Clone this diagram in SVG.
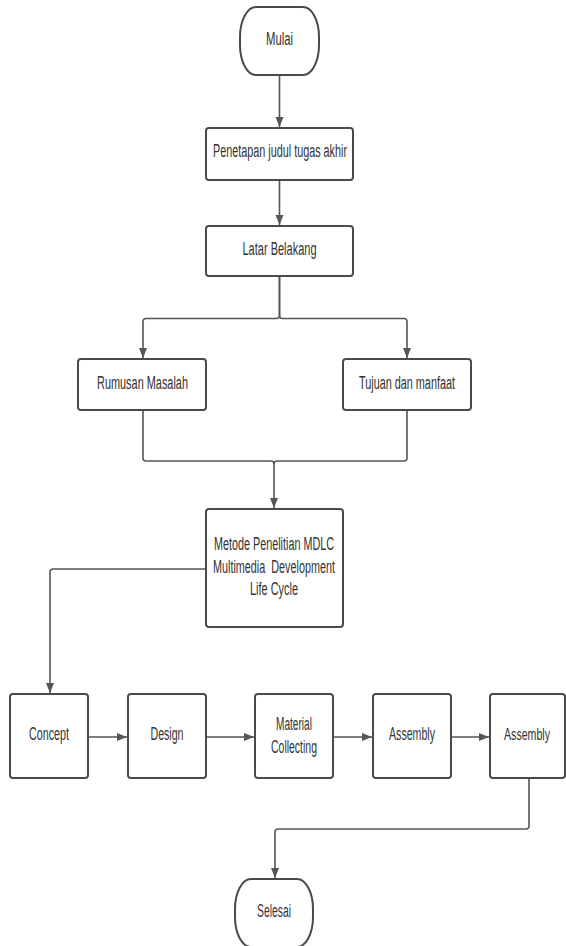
<svg xmlns="http://www.w3.org/2000/svg" width="566" height="946" viewBox="0 0 566 946">
<style>
.box{fill:#ffffff;stroke:#4a4a4a;stroke-width:2}
.lbl{font-family:"Liberation Sans Narrow","Liberation Sans",Arial,sans-serif;font-size:18px;fill:#333333;text-anchor:middle}
.con{fill:none;stroke:#555555;stroke-width:1.6;stroke-linejoin:round}
</style>
<defs>
<marker id="arr" markerUnits="userSpaceOnUse" markerWidth="12" markerHeight="10" refX="10" refY="4" orient="auto">
<path d="M0,0 L10,4 L0,8 Z" fill="#555555"/>
</marker>
</defs>
<rect width="566" height="946" fill="#ffffff"/>
<g id="connectors">
<path class="con" d="M279.5,75 V127" marker-end="url(#arr)"/>
<path class="con" d="M279.5,180 V225" marker-end="url(#arr)"/>
<path class="con" d="M279.5,276 V315.5 Q279.5,318.5 276.5,318.5 H146 Q143,318.5 143,321.5 V358" marker-end="url(#arr)"/>
<path class="con" d="M279.5,276 V315.5 Q279.5,318.5 282.5,318.5 H404 Q407,318.5 407,321.5 V358" marker-end="url(#arr)"/>
<path class="con" d="M143,410 V458 Q143,461 146,461 H271 Q274,461 274,464 V508" marker-end="url(#arr)"/>
<path class="con" d="M407,410 V458 Q407,461 404,461 H277 Q274,461 274,464"/>
<path class="con" d="M206,569 H53 Q50,569 50,572 V693" marker-end="url(#arr)"/>
<path class="con" d="M88,737 H127" marker-end="url(#arr)"/>
<path class="con" d="M206,737 H254" marker-end="url(#arr)"/>
<path class="con" d="M333,737 H372" marker-end="url(#arr)"/>
<path class="con" d="M451,737 H489" marker-end="url(#arr)"/>
<path class="con" d="M529,778 V826 Q529,829 526,829 H278 Q275,829 275,832 V878" marker-end="url(#arr)"/>
</g>
<g id="mulai">
<rect class="box" x="240" y="7" width="79" height="68" rx="16" ry="30"/>
<text class="lbl" x="279.5" y="45" textLength="27" lengthAdjust="spacingAndGlyphs">Mulai</text>
</g>
<g id="penetapan">
<rect class="box" x="206" y="128" width="147" height="52" rx="3"/>
<text class="lbl" x="280" y="157" textLength="134" lengthAdjust="spacingAndGlyphs">Penetapan judul tugas akhir</text>
</g>
<g id="latar">
<rect class="box" x="206" y="226" width="147" height="50" rx="3"/>
<text class="lbl" x="279.5" y="255" textLength="74" lengthAdjust="spacingAndGlyphs">Latar Belakang</text>
</g>
<g id="rumusan">
<rect class="box" x="78" y="359" width="128" height="51" rx="3"/>
<text class="lbl" x="142.5" y="389" textLength="91" lengthAdjust="spacingAndGlyphs">Rumusan Masalah</text>
</g>
<g id="tujuan">
<rect class="box" x="343" y="359" width="128" height="51" rx="3"/>
<text class="lbl" x="407" y="389" textLength="96" lengthAdjust="spacingAndGlyphs">Tujuan dan manfaat</text>
</g>
<g id="metode">
<rect class="box" x="206" y="509" width="137" height="118" rx="3"/>
<text class="lbl" x="274" y="550" textLength="120" lengthAdjust="spacingAndGlyphs">Metode Penelitian MDLC</text>
<text class="lbl" x="274" y="573" textLength="122" lengthAdjust="spacingAndGlyphs" xml:space="preserve">Multimedia  Development</text>
<text class="lbl" x="274" y="595" textLength="48" lengthAdjust="spacingAndGlyphs">Life Cycle</text>
</g>
<g id="concept">
<rect class="box" x="10" y="694" width="78" height="84" rx="3"/>
<text class="lbl" x="49" y="740" textLength="40" lengthAdjust="spacingAndGlyphs">Concept</text>
</g>
<g id="design">
<rect class="box" x="128" y="694" width="78" height="84" rx="3"/>
<text class="lbl" x="167" y="740" textLength="33" lengthAdjust="spacingAndGlyphs">Design</text>
</g>
<g id="material">
<rect class="box" x="255" y="694" width="78" height="84" rx="3"/>
<text class="lbl" x="294" y="730" textLength="36" lengthAdjust="spacingAndGlyphs">Material</text>
<text class="lbl" x="294" y="753" textLength="46" lengthAdjust="spacingAndGlyphs">Collecting</text>
</g>
<g id="assembly1">
<rect class="box" x="373" y="694" width="78" height="84" rx="3"/>
<text class="lbl" x="412" y="740" textLength="46" lengthAdjust="spacingAndGlyphs">Assembly</text>
</g>
<g id="assembly2">
<rect class="box" x="490" y="694" width="75" height="84" rx="3"/>
<text class="lbl" x="527" y="740" textLength="46" lengthAdjust="spacingAndGlyphs" style="font-size:17px">Assembly</text>
</g>
<g id="selesai">
<rect class="box" x="235" y="879" width="78" height="68" rx="16" ry="30"/>
<text class="lbl" x="274" y="917" textLength="34" lengthAdjust="spacingAndGlyphs">Selesai</text>
</g>
</svg>
